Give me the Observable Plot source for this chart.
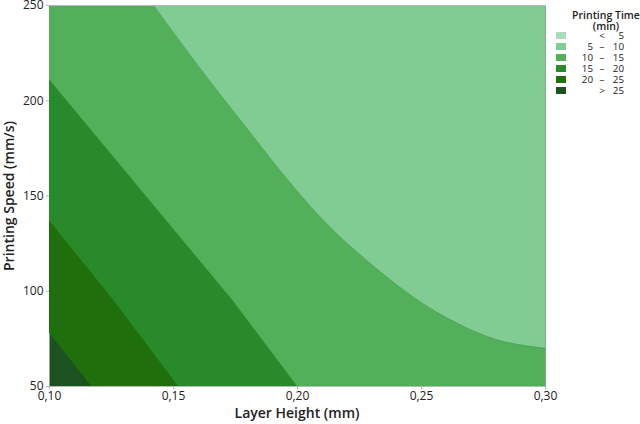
<!DOCTYPE html>
<html>
<head>
<meta charset="utf-8">
<script src="https://cdn.jsdelivr.net/npm/d3@7"></script>
<script src="https://cdn.jsdelivr.net/npm/@observablehq/plot@0.6"></script>
<style>
  body { margin: 0; background: #fff; font-family: "Open Sans", sans-serif; }
  #wrap { position: relative; width: 640px; height: 424px; }
  #chart svg { display: block; }
  #chart g[aria-label="x-axis tick"], #chart g[aria-label="y-axis tick"], #chart .tick line { stroke: #b4b4b4; }
  #over { position: absolute; left: 0; top: 0; width: 640px; height: 424px; pointer-events: none; color: #222; }
  .axt { position: absolute; font-size: 14px; font-weight: 600; line-height: 14px; white-space: nowrap; text-align: center; }
  #over .ttl { position: absolute; left: 566px; width: 80px; text-align: center; font-size: 10.5px; font-weight: 600; line-height: 10px; }
  #over .sw { position: absolute; left: 556px; width: 10px; height: 7px; }
  #over .lo, #over .dash, #over .hi { position: absolute; font-size: 9.8px; line-height: 10px; }
  #over .lo { left: 566px; width: 27px; text-align: right; }
  #over .dash { left: 596px; width: 12px; text-align: center; }
  #over .hi { left: 608px; width: 16px; text-align: right; }
</style>
</head>
<body>
<div id="wrap">
  <div id="chart"></div>
  <div id="over"></div>
</div>
<script>
// categorías de la leyenda (tiempo de impresión, min)
const levelLo = ["", "5", "10", "15", "20", ""]
const levelMid = ["<", "–", "–", "–", "–", ">"]
const levelHi = ["5", "10", "15", "20", "25", "25"]
const palette = ["#a9dcb8", "#80cc92", "#52b05b", "#288a2a", "#1f700c", "#1b5220"]

// ejes
const xTicks = [0.10, 0.15, 0.20, 0.25, 0.30]
const yTicks = [50, 100, 150, 200, 250]
const xTitle = "Layer Height (mm)"
const yTitle = "Printing Speed (mm/s)"

// fronteras entre zonas (altura de capa, velocidad)
const b25x = [0.10, 0.117, 0.30]
const b25y = [78, 50, 50]
const b20x = [0.10, 0.126, 0.152, 0.30]
const b20y = [137, 95, 50, 50]
const b15x = [0.10, 0.174, 0.20, 0.30]
const b15y = [211, 95, 50, 50]
const b10x = [0.142, 0.164, 0.177, 0.190, 0.202, 0.214, 0.227, 0.240, 0.254, 0.269, 0.282, 0.30]
const b10y = [250, 211, 190, 168, 149, 132, 117, 103, 90, 80, 73, 70]

const yTop = yTicks[yTicks.length - 1]
const toRows = (xs, ys) => xs.map((x, i) => ({x, y: ys[i], yTop}))

const bands = [
  {rows: toRows(b25x, b25y), fill: palette[4], curve: "linear"},
  {rows: toRows(b20x, b20y), fill: palette[3], curve: "linear"},
  {rows: toRows(b15x, b15y), fill: palette[2], curve: "linear"},
  {rows: toRows(b10x, b10y), fill: palette[1], curve: "basis"}
]

const comma = d => d3.format(".2f")(d).replace(".", ",")

let chart = Plot.plot({
  width: 640,
  height: 424,
  marginLeft: 49,
  marginRight: 95,
  marginTop: 5,
  marginBottom: 38,
  style: {fontFamily: "Open Sans, sans-serif", fontSize: "12px", color: "#222", background: "#fff"},
  x: {
    domain: [xTicks[0], xTicks[xTicks.length - 1]],
    ticks: xTicks,
    tickFormat: comma,
    tickSize: 3,
    tickPadding: 2,
    label: null
  },
  y: {
    domain: [yTicks[0], yTop],
    ticks: yTicks,
    tickSize: 3,
    tickPadding: 3,
    label: null
  },
  marks: [
    Plot.frame({fill: palette[5]}),
    ...bands.map(b => Plot.areaY(b.rows, {x: "x", y1: "y", y2: "yTop", fill: b.fill, curve: b.curve})),
    Plot.line(bands[3].rows, {x: "x", y: "y", stroke: "#449f4e", strokeWidth: 0.6, curve: "basis"}),
    Plot.ruleY([yTicks[0], yTop], {stroke: "#b8b8b8", strokeWidth: 1})
  ]
})
d3.select('#chart').append(() => chart)

const over = d3.select('#over')

// títulos de los ejes
over.append('div').attr('class', 'axt')
  .style('left', '197px').style('width', '200px').style('top', '406px')
  .text(xTitle)
over.append('div').attr('class', 'axt')
  .style('left', '-91px').style('width', '200px').style('top', '189px')
  .style('transform', 'rotate(-90deg)')
  .text(yTitle)

// leyenda
over.append('div').attr('class', 'ttl').style('top', '10px').text('Printing Time')
over.append('div').attr('class', 'ttl').style('top', '21px').text('(min)')
levelHi.forEach((hi, i) => {
  const yc = 36 + i * 11
  over.append('div').attr('class', 'sw').style('top', (yc - 4) + 'px').style('background', palette[i])
  over.append('div').attr('class', 'lo').style('top', (yc - 5) + 'px').text(levelLo[i])
  over.append('div').attr('class', 'dash').style('top', (yc - 5) + 'px').text(levelMid[i])
  over.append('div').attr('class', 'hi').style('top', (yc - 5) + 'px').text(hi)
})
</script>
</body>
</html>
